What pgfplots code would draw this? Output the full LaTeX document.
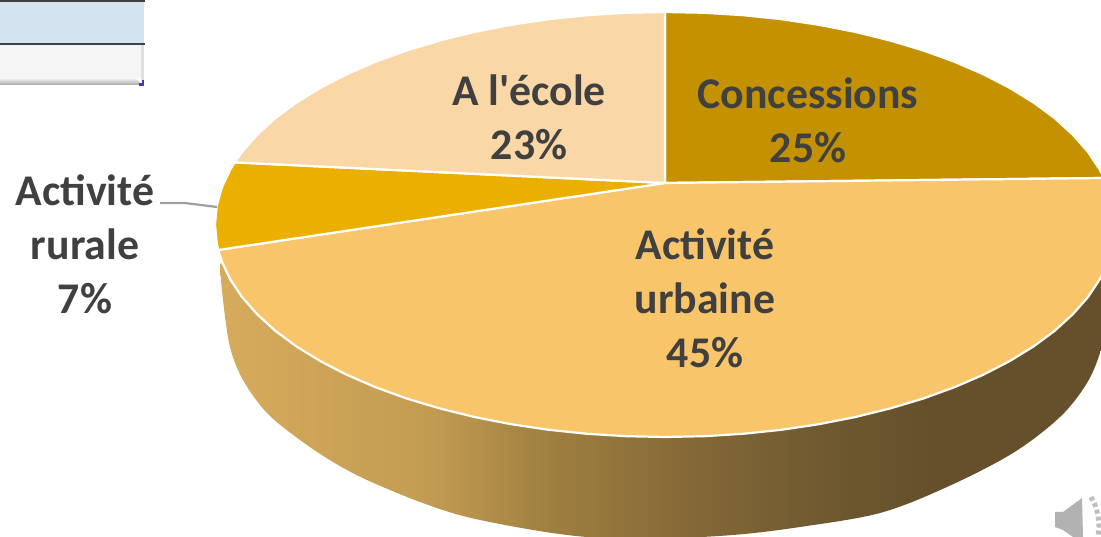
\documentclass[border=0pt]{standalone}
\usepackage{fontspec}
\setmainfont{Carlito}[Ligatures=TeXOff]
\usepackage{pgfplots}
\pgfplotsset{compat=1.18}
\definecolor{cConc}{HTML}{C49200}
\definecolor{cUrb}{HTML}{F9C56B}
\definecolor{cRur}{HTML}{EBAF00}
\definecolor{cEco}{HTML}{FAD7A7}
\definecolor{cTxt}{HTML}{404040}
\definecolor{gA}{HTML}{D6AB5C}
\definecolor{gB}{HTML}{C29B52}
\definecolor{gC}{HTML}{A08040}
\definecolor{gD}{HTML}{866A38}
\definecolor{gE}{HTML}{6E5830}
\definecolor{gF}{HTML}{65502B}
\pgfdeclarehorizontalshading{sidegrad}{100bp}{color(0bp)=(gA); color(25bp)=(gA); color(36bp)=(gB); color(42bp)=(gC); color(49bp)=(gD); color(57bp)=(gE); color(62bp)=(gF); color(100bp)=(gF)}
\begin{document}
\begin{tikzpicture}
\begin{axis}[
  scale only axis, width=1101pt, height=537pt,
  xmin=0, xmax=1101, ymin=0, ymax=537,
  hide axis, clip=true,
  every axis plot/.append style={mark=none, forget plot},
  slice/.style={draw=white, line width=2.2pt, line join=round},
]
% side wall
\addplot[draw=none, shading=sidegrad, smooth, tension=0.55] coordinates {
 (224,290)(220.5,270)(223,237)(230,190)(243,157)(267,124)(300,97)(333,75)(367,57)(420,35)(467,20)(533,7)(587,0)(650,-2)(733,2)(800,10)(880,24)(947,50)(1013,84)(1060,120)(1087,154)(1101,187)(1110,225)(1112,300)(665,354)
} -- cycle;
% Concessions
\addplot[slice, fill=cConc] coordinates {
 (665,354)(665,525)(704.2,524.2)(743.1,521.8)(781.5,517.8)(818.9,512.2)(855.2,505.1)(890,496.5)(923.1,486.6)(954.3,475.3)(983.2,462.8)(1009.7,449.1)(1033.6,434.4)(1054.7,418.8)(1072.8,402.3)(1087.9,385.2)(1099.7,367.5)(1104,359)
} -- cycle;
% Activite urbaine
\addplot[slice, fill=cUrb] coordinates {
 (665,354)(1104,359)(1108.2,349.4)(1113.3,331)(1115,312.5)(1113.3,294)(1108.2,275.6)(1099.7,257.5)(1087.9,239.8)(1072.8,222.7)(1054.7,206.2)(1033.6,190.6)(1009.7,175.9)(983.2,162.2)(954.3,149.7)(923.1,138.4)(890,128.5)(855.2,119.9)(818.9,112.8)(781.5,107.2)(743.1,103.2)(704.2,100.8)(665,100)(625.8,100.8)(586.9,103.2)(548.5,107.2)(511.1,112.8)(474.8,119.9)(440,128.5)(406.9,138.4)(375.7,149.7)(346.8,162.2)(320.3,175.9)(296.4,190.6)(275.3,206.2)(257.2,222.7)(242.1,239.8)(230.3,257.5)(221.8,275.6)(218.2,287)
} -- cycle;
% Activite rurale
\addplot[slice, fill=cRur] coordinates {
 (665,354)(218.2,287)(216.7,294)(215,312.5)(216.7,331)(221.8,349.4)(230.3,367.5)(234.7,374.6)
} -- cycle;
% A l'ecole
\addplot[slice, fill=cEco] coordinates {
 (665,354)(234.7,374.6)(242.1,385.2)(257.2,402.3)(275.3,418.8)(296.4,434.4)(320.3,449.1)(346.8,462.8)(375.7,475.3)(406.9,486.6)(440,496.5)(474.8,505.1)(511.1,512.2)(548.5,517.8)(586.9,521.8)(625.8,524.2)(665,525)
} -- cycle;
% leader
\addplot[color=black!38, line width=2.2pt] coordinates {(160,334)(185,334)(217,330)};
% table fragment
\addplot[draw=none, fill=black!4] coordinates {(0,492)(143,492)(143,459)(0,459)} -- cycle;
\addplot[draw=none, top color=black!4, bottom color=black!35] coordinates {(0,459)(135,459)(143,452)(0,452)} -- cycle;
\addplot[draw=none, fill=black!12] coordinates {(141,492)(144,492)(144,456)(141,456)} -- cycle;
\addplot[draw=none, fill=blue!55!black!75] coordinates {(139,454)(144,454)(144,451)(139,451)} -- cycle;
\addplot[draw=none, fill=blue!55!black!75] coordinates {(142,457)(144,457)(144,451)(142,451)} -- cycle;
\addplot[draw=none, fill={rgb,255:red,211;green,227;blue,240}] coordinates {(0,535)(144,535)(144,493)(0,493)} -- cycle;
\addplot[color=black!75, line width=2pt] coordinates {(0,493)(145,493)};
\addplot[color=black!75, line width=2.5pt] coordinates {(0,536)(145,536)};
% speaker
\addplot[draw=none, fill=black!30] coordinates {(1055,25)(1063,25)(1082,39)(1083,0)(1073,0)(1063,7)(1055,10)} -- cycle;
\addplot[color=black!25, line width=5pt, dash pattern=on 4pt off 3pt] coordinates {(1091,40)(1095,32)(1098,22)(1099,12)(1098,0)};
% labels
\node[font=\fontsize{43.8}{54}\selectfont\bfseries, text=cTxt, align=center] at (axis cs:529,420) {A l'école\\23\%};
\node[font=\fontsize{43.8}{54}\selectfont\bfseries, text=cTxt, align=center] at (axis cs:808,417) {Concessions\\25\%};
\node[font=\fontsize{43.8}{54}\selectfont\bfseries, text=cTxt, align=center] at (axis cs:705,239) {Activité\\urbaine\\45\%};
\node[font=\fontsize{43.8}{54}\selectfont\bfseries, text=cTxt, align=center] at (axis cs:85,293) {Activité\\rurale\\7\%};
\end{axis}
\end{tikzpicture}
\end{document}
